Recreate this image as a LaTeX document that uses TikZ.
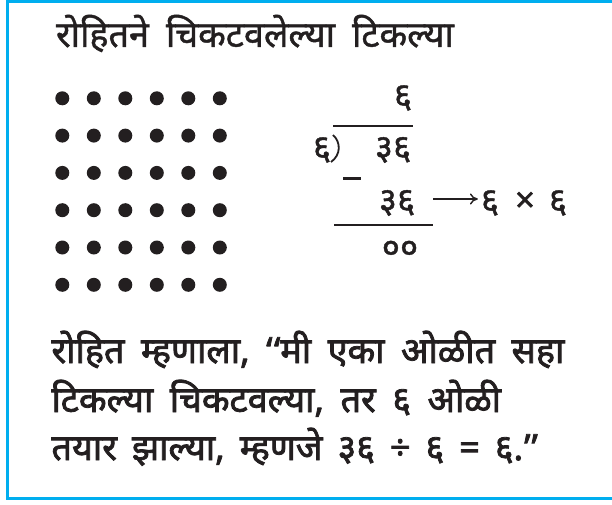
\documentclass[tikz,border=0pt]{standalone}
\usepackage{fontspec}
\newfontfamily\devt[Script=Devanagari, FakeBold=1.2]{Noto Sans}
\newfontfamily\devb[Script=Devanagari, FakeBold=2.2]{Noto Sans}
\newcommand\mytitlefont{\devt\fontsize{36}{40}\selectfont\spaceskip=17pt\relax}
\newcommand\mybodyfont{\devb\fontsize{36}{40}\selectfont\spaceskip=16.5pt\relax}
\usetikzlibrary{arrows.meta}
\definecolor{frameblue}{HTML}{00AEEF}
\definecolor{ink}{HTML}{231F20}
\begin{document}
\begin{tikzpicture}[x=1pt,y=-1pt,
  every node/.style={inner sep=0pt, outer sep=0pt, text=ink},
  titletext/.style={font=\mytitlefont, anchor=base west},
  bodytext/.style={font=\mybodyfont, anchor=base west},
  digit/.style={font=\devt\fontsize{35}{38}\selectfont},
  rule/.style={draw=ink, line width=1.6pt},
  arr/.style={draw=ink, line width=1.4pt, -{To[length=8pt,width=11pt]}},
  frame/.style={draw=frameblue, line width=3.3pt, line join=miter}]
\useasboundingbox (0,0) rectangle (612,505);
\fill[white] (0,0) rectangle (612,505);
% frame (open on the right)
\draw[frame] (614,1.4) -- (7.8,1.4) -- (7.8,498.3) -- (614,498.3);
% title
\node[titletext] (title) at (56,47) {रोहितने चिकटवलेल्या टिकल्या};
% dots
\foreach \i in {0,...,5}
  \foreach \j in {0,...,5}
    \fill[ink] (62.3+31.5*\i, 98.3+37.3*\j) circle (7);
% long division
\node[digit] (q) at (403,98) {६};
\node[digit] (dv) at (322,150) {६};
\node[digit] (dd) at (393,150) {३६};
\node[digit] (d2) at (397,203) {३६};
\node[digit] (p1) at (490,203) {६};
\node[digit] (tm) at (525,202) {×};
\node[digit] (p2) at (558,203) {६};
\node[digit] (rem) at (400,250) {००};
\coordinate (ovl) at (333,126);
\coordinate (ovr) at (413,126);
\draw[rule, line width=1.5pt] (ovl) -- (ovr);
\draw[draw=ink, line width=1.8pt] (333,135) .. controls (341,142) and (341,155) .. (331,162);
\draw[draw=ink, line width=3pt] (343,178) -- (361,178);
\coordinate (dl) at (334,225);
\coordinate (dr) at (433,225);
\draw[rule, line width=2.2pt] (dl) -- (dr);
\draw[arr, shorten <=18pt, shorten >=3pt] ([yshift=4pt]d2.east) -- ([yshift=4pt]p1.west);
% body text
\node[bodytext] (l1) at (51.5,363) {रोहित म्हणाला, ‘\kern1.5pt‘मी एका ओळीत सहा};
\node[bodytext] (l2) at (51.5,412) {टिकल्या चिकटवल्या, तर ६ ओळी};
\node[bodytext] (l3) at (51.5,460) {\spaceskip=15pt\relax तयार झाल्या, म्हणजे ३६ ÷ ६ = ६.\kern1pt’\kern1pt’};
\end{tikzpicture}
\end{document}
